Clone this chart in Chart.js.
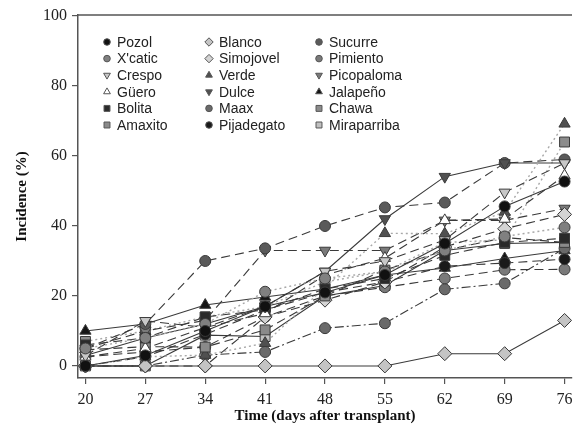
<!DOCTYPE html>
<html>
<head>
<meta charset="utf-8">
<script src="https://cdn.jsdelivr.net/npm/chart.js@4.4.1/dist/chart.umd.min.js"></script>
<style>
  html, body { margin: 0; padding: 0; background: #fff; }
  #wrap { width: 580px; height: 427px; position: relative; }
</style>
</head>
<body>
<div id="wrap"><canvas id="c" width="580" height="427"></canvas></div>
<script>
// ---- data ----
const days = [20, 27, 34, 41, 48, 55, 62, 69, 76];
const yTicks = [0, 20, 40, 60, 80, 100];
const seriesNames = ["Pozol", "X'catic", "Crespo", "Güero", "Bolita", "Amaxito",
  "Blanco", "Simojovel", "Verde", "Dulce", "Maax", "Pijadegato",
  "Sucurre", "Pimiento", "Picopaloma", "Jalapeño", "Chawa", "Miraparriba"];

const pozol       = [0, 3, 10, 17, 21, 26, 35, 45.6, 52.7];
const xcatic      = [5, 8, 12, 21.2, 25, 27, 33, 37, 39.6];
const crespo      = [3, 12.9, 11, 17, 27, 30, 36, 49.6, 58];
const guero       = [2.6, 5, 11, 15, 26, 30.8, 41.6, 42, 54.4];
const bolita      = [6, 8, 14, 16, 22, 25, 31.6, 35.3, 36.5];
const amaxito     = [4.6, 5.5, 5.4, 10.3, 20, 27.4, 33, 36.7, 35.3];
const blanco      = [0, 0, 0, 0, 0, 0, 3.5, 3.5, 13];
const simojovel   = [0, 0, 0, 14, 18.8, 24, 34, 39.2, 43.3];
const verde       = [0, 2.6, 3.1, 6.5, 22.5, 37.9, 37.8, 44, 69.2];
const dulce       = [3, 8, 12, 17, 27, 42, 54.1, 58, 58];
const maax        = [0, 0, 3.1, 4, 10.8, 12.2, 21.9, 23.6, 33.6];
const pijadegato  = [0, 2.6, 9, 16, 21, 24, 28.5, 29.4, 30.5];
const sucurre     = [5, 12, 30, 33.6, 40, 45.3, 46.7, 58, 59];
const pimiento    = [2.6, 4, 5.4, 14, 20, 22.5, 25, 27.5, 27.6];
const picopaloma  = [5, 10, 13, 33, 33, 33, 41.6, 41.6, 45];
const jalapeno    = [10, 12, 17.4, 19.7, 22, 26, 28, 30.7, 33];
const chawa       = [7, 10, 14, 17, 24, 27, 35.3, 36, 64];
const miraparriba = [0, 0, 8.8, 8.4, 20, 23, 33, 35, 35.3];

const seriesValues = [pozol, xcatic, crespo, guero, bolita, amaxito,
  blanco, simojovel, verde, dulce, maax, pijadegato,
  sucurre, pimiento, picopaloma, jalapeno, chawa, miraparriba];

// ---- styles ----
const SOLID = [], DASH = [9, 5], DOT = [2, 3], DASHDOT = [9, 3, 2, 3];
const styles = [
  {shape: 'circle',   fill: '#111', line: SOLID},   // Pozol
  {shape: 'circle',   fill: '#808080', line: DOT},  // X'catic
  {shape: 'invtri',   fill: '#c8c8c8', line: DASH}, // Crespo
  {shape: 'triangle', fill: '#ffffff', line: DASH}, // Güero
  {shape: 'rect',     fill: '#2a2a2a', line: DASH}, // Bolita
  {shape: 'rect',     fill: '#8a8a8a', line: DASH}, // Amaxito
  {shape: 'diamond',  fill: '#c4c4c4', line: SOLID},// Blanco
  {shape: 'diamond',  fill: '#d4d4d4', line: DASH}, // Simojovel
  {shape: 'triangle', fill: '#505050', line: DOT},  // Verde
  {shape: 'invtri',   fill: '#505050', line: SOLID},// Dulce
  {shape: 'circle',   fill: '#6a6a6a', line: DASHDOT}, // Maax
  {shape: 'circle',   fill: '#1a1a1a', line: DASH}, // Pijadegato
  {shape: 'circle',   fill: '#5a5a5a', line: DASH}, // Sucurre
  {shape: 'circle',   fill: '#7a7a7a', line: DASH}, // Pimiento
  {shape: 'invtri',   fill: '#7a7a7a', line: DASH}, // Picopaloma
  {shape: 'triangle', fill: '#151515', line: SOLID},// Jalapeño
  {shape: 'rect',     fill: '#8c8c8c', line: DOT},  // Chawa
  {shape: 'rect',     fill: '#c0c0c0', line: SOLID} // Miraparriba
];

function ptStyle(s) {
  if (s === 'invtri') return {style: 'triangle', rot: 180, r: 6.5};
  if (s === 'triangle') return {style: 'triangle', rot: 0, r: 6.5};
  if (s === 'rect') return {style: 'rect', rot: 0, r: 7};
  if (s === 'diamond') return {style: 'rectRot', rot: 0, r: 7};
  return {style: 'circle', rot: 0, r: 5.5};
}

const datasets = seriesNames.map((name, i) => {
  const st = styles[i];
  const p = ptStyle(st.shape);
  const dotted = st.line === DOT;
  return {
    label: name,
    data: days.map((d, k) => ({x: d, y: seriesValues[i][k]})),
    borderColor: dotted ? '#a8a8a8' : '#3a3a3a',
    borderWidth: dotted ? 1.4 : 1.1,
    borderDash: st.line,
    pointStyle: p.style,
    pointRotation: p.rot,
    pointRadius: p.r,
    pointBackgroundColor: st.fill,
    pointBorderColor: '#3a3a3a',
    pointBorderWidth: 1,
    fill: false,
    tension: 0
  };
});

// ---- plugins ----
const frameAndLegend = {
  id: 'frameAndLegend',
  afterDraw(chart) {
    const ctx = chart.ctx;
    const a = chart.chartArea;
    ctx.save();
    ctx.strokeStyle = '#555';
    ctx.lineWidth = 1.5;
    ctx.beginPath();
    ctx.moveTo(a.left, a.top);
    ctx.lineTo(a.right, a.top);
    ctx.stroke();

    // legend: 3 columns x 6 rows, column-major
    const colMarkX = [107, 209, 319];
    const rowY0 = 42, rowH = 16.6;
    ctx.font = '14px "Liberation Sans", Arial, sans-serif';
    ctx.textBaseline = 'middle';
    ctx.textAlign = 'left';
    chart.data.datasets.forEach((ds, i) => {
      const col = Math.floor(i / 6), row = i % 6;
      const x = colMarkX[col], y = rowY0 + row * rowH;
      const st = styles[i];
      const p = ptStyle(st.shape);
      ctx.fillStyle = st.fill;
      ctx.strokeStyle = '#555';
      ctx.lineWidth = 1;
      ctx.setLineDash([]);
      Chart.helpers.drawPoint(ctx, {pointStyle: p.style, rotation: p.rot, radius: p.r * 0.6, borderWidth: 1}, x, y);
      ctx.fillStyle = '#222';
      ctx.fillText(ds.label, x + 10, y + 1);
    });
    ctx.restore();
  }
};

new Chart(document.getElementById('c'), {
  type: 'line',
  data: {datasets},
  options: {
    responsive: false,
    animation: false,
    events: [],
    layout: {padding: {top: 15, right: 2, left: 0, bottom: 0}},
    plugins: {legend: {display: false}, tooltip: {enabled: false}, title: {display: false}},
    scales: {
      x: {
        type: 'linear',
        min: 19.13, max: 76.87,
        afterBuildTicks: s => { s.ticks = days.map(v => ({value: v})); },
        afterFit: s => { s.height = 49; },
        border: {display: true, color: '#555', width: 1.5},
        grid: {display: true, drawOnChartArea: false, drawTicks: true, tickLength: 6, color: '#555', lineWidth: 1.2},
        ticks: {color: '#222', padding: 6, font: {family: '"Liberation Serif", "Times New Roman", serif', size: 16}, maxRotation: 0, autoSkip: false},
        title: {display: true, text: 'Time (days after transplant)', color: '#111',
          font: {family: '"Liberation Serif", "Times New Roman", serif', size: 15, weight: 'bold'},
          padding: {top: 0, bottom: 2}}
      },
      y: {
        type: 'linear',
        min: -3.45, max: 100.3,
        afterBuildTicks: s => { s.ticks = yTicks.map(v => ({value: v})); },
        afterFit: s => { s.width = 78; },
        border: {display: true, color: '#555', width: 1.5},
        grid: {display: true, drawOnChartArea: false, drawTicks: true, tickLength: 6, color: '#555', lineWidth: 1.2},
        ticks: {color: '#222', padding: 5, font: {family: '"Liberation Serif", "Times New Roman", serif', size: 16}},
        title: {display: true, text: 'Incidence (%)', color: '#111',
          font: {family: '"Liberation Serif", "Times New Roman", serif', size: 15, weight: 'bold'},
          padding: {top: 13, bottom: 0}}
      }
    }
  },
  plugins: [frameAndLegend]
});
</script>
</body>
</html>
